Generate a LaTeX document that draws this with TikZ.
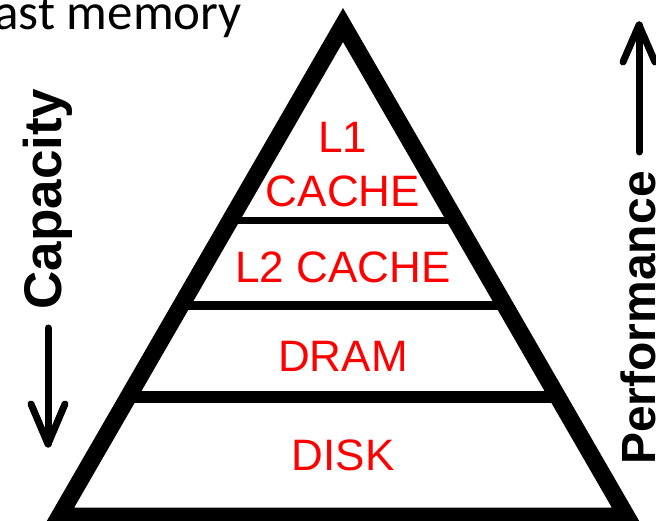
\documentclass[tikz,border=0pt]{standalone}
\usepackage{fontspec}
\setmainfont{Liberation Sans}
\newfontfamily\carlitofont{Carlito}
\begin{document}
\begin{tikzpicture}[x=1pt,y=-1pt,
  redlabel/.style={text=red, inner sep=0pt, font=\fontsize{44}{54}\selectfont, align=center},
  sidelabel/.style={inner sep=0pt, rotate=90, anchor=base},
  arr/.style={line width=7pt, line cap=round, line join=round},
  level/.style={line width=#1pt, line cap=butt}]
\useasboundingbox (0,0) rectangle (656,521);
\clip (0,0) rectangle (656,521);

% top-left partial caption
\node[inner sep=0pt, anchor=base east, font=\carlitofont\fontsize{51}{60}\selectfont] (cap) at (242,30) {ast memory};

% pyramid
\coordinate (A) at (343,25);
\coordinate (BL) at (59.5,516);
\coordinate (BR) at (626.5,516);
\draw[line width=17pt, line join=miter] (A) -- (BL) -- (BR) -- cycle;

% level separators
\coordinate (l1a) at (230.1,220.5); \coordinate (l1b) at (455.9,220.5);
\coordinate (l2a) at (180.8,306);   \coordinate (l2b) at (505.2,306);
\coordinate (l3a) at (128.2,397);   \coordinate (l3b) at (557.8,397);
\draw[level=7] (l1a) -- (l1b);
\draw[level=9] (l2a) -- (l2b);
\draw[level=11.5] (l3a) -- (l3b);

% labels
\node[redlabel, anchor=base] (l1) at (343,153) {L1};
\node[redlabel, anchor=base] (l1c) at (343,207) {CACHE};
\node[redlabel, anchor=base] (l2) at (343,283) {L2 CACHE};
\node[redlabel, anchor=base] (dram) at (343,371) {DRAM};
\node[redlabel, anchor=base] (disk) at (343,470) {DISK};

% capacity
\node[sidelabel, font=\bfseries\fontsize{53}{60}\selectfont] (capacity) at (61,199) {Capacity};
\coordinate (capTop) at (48,328);
\coordinate (capTip) at (48,444);
\coordinate (capL) at (31,404);
\coordinate (capR) at (65,404);
\draw[arr] (capTop) -- (capTip);
\draw[arr] (capL) -- (capTip) -- (capR);

% performance
\node[sidelabel, font=\bfseries\fontsize{48}{56}\selectfont] (perf) at (655.5,318) {Performance};
\coordinate (perfBot) at (639,152);
\coordinate (perfTip) at (639,25);
\coordinate (perfL) at (623,62);
\coordinate (perfR) at (655,62);
\draw[arr] (perfBot) -- (perfTip);
\draw[arr] (perfL) -- (perfTip) -- (perfR);
\end{tikzpicture}
\end{document}
